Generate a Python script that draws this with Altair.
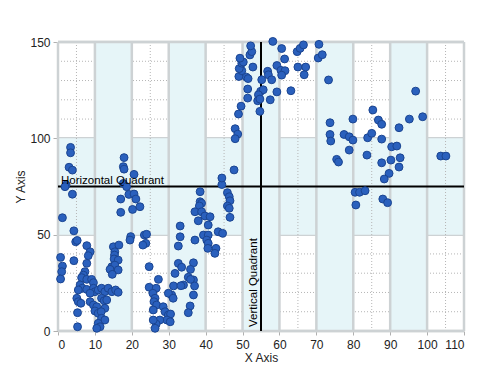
import altair as alt
import pandas as pd

# ---- data ----
x_vals = [
    3.4, 3.4, 3.0, 3.9, 2.2, 1.9, 3.9, 1.2, 4.3, 4.8, 5.2, 7.8, 8.7, 8.2, 0.7, 4.3, 7.8, 1.2, 1.0, 0.7,
    7.3, 6.9, 6.4, 7.8, 9.1, 9.6, 6.0, 6.6, 5.5, 7.8, 9.6, 10.0, 8.7, 5.1, 5.5, 6.2, 8.7, 9.6, 10.5, 10.0,
    10.9, 5.3, 5.3,
    10.9, 11.8, 12.7, 13.6, 14.6, 15.6, 16.3, 11.8, 12.5, 13.2, 12.7, 11.7, 11.8, 12.7, 10.9, 11.4, 10.5,
    15.0, 16.5, 15.4, 15.3, 15.2, 16.3, 14.6, 15.4, 14.1, 16.3, 14.7,
    17.9, 17.7, 17.9, 20.6, 17.7, 18.6, 19.2, 20.6, 21.1, 17.0, 20.2, 22.2, 17.0, 19.7, 19.5,
    23.4, 24.0, 23.8, 23.0,
    24.7, 27.2, 24.7, 26.6, 25.7, 26.3, 26.0, 26.7, 28.5, 29.0, 29.9, 30.5, 29.5, 27.6, 26.6, 25.8, 26.3,
    30.4, 30.8, 29.9, 31.2, 25.8,
    33.1, 33.1, 32.6, 37.1, 32.6, 33.5, 31.7, 31.3, 34.0, 36.7, 35.9, 35.3, 36.7, 37.0, 36.7, 35.8, 35.3,
    35.9, 33.3,
    38.5, 38.5, 38.9, 38.3, 37.1, 38.9, 38.0, 39.8, 41.2, 40.7, 39.4, 40.7, 40.3, 40.7, 42.8, 42.5, 43.4,
    44.6, 40.6, 44.4, 45.9, 46.4, 46.6, 45.9, 46.4, 46.6, 44.4,
    47.7, 48.0, 48.7, 48.0, 48.9, 49.6, 51.4, 51.4, 51.0, 51.5, 49.0, 49.8, 49.1, 49.8, 50.2, 49.3, 52.0,
    52.5, 52.2, 52.8,
    55.2, 54.9, 55.6, 54.3, 54.1, 54.7, 54.7,
    58.2, 56.8, 57.0, 57.9, 59.3, 60.4, 61.5, 60.6, 61.4, 60.6, 59.3, 57.5, 63.1, 64.8, 65.6, 66.5, 65.0,
    67.1, 66.7, 70.5, 71.6, 70.7, 73.3,
    96.9, 85.3, 73.7, 79.9, 86.8, 87.7, 95.2, 98.8, 92.4, 73.7, 73.9, 77.5, 78.9, 79.9, 83.9, 85.0, 87.7,
    78.9, 75.5, 76.0, 83.7, 90.4, 91.8, 92.7, 90.2, 87.7, 92.4, 89.7, 88.4, 103.7, 105.1, 80.5, 81.7, 83.2,
    80.7, 88.0, 89.3,
]
y_vals = [
    95.3, 92.5, 85.0, 83.5, 75.8, 74.9, 71.0, 58.8, 52.0, 46.3, 47.0, 44.3, 41.1, 39.1, 38.2, 36.5, 35.1, 33.7, 30.8, 27.0,
    30.8, 29.0, 27.7, 26.8, 26.8, 25.1, 23.9, 22.2, 21.3, 21.6, 22.2, 20.4, 19.6, 17.0, 15.2, 14.4, 15.2, 13.5, 12.6, 10.4,
    9.2, 9.5, 2.2,
    21.3, 22.2, 20.4, 22.2, 20.4, 21.3, 20.1, 17.0, 15.7, 16.1, 11.8, 10.0, 6.6, 5.7, 4.0, 2.2, 1.4,
    43.7, 44.6, 41.1, 39.4, 37.4, 36.8, 33.4, 34.2, 32.0, 31.7, 29.4,
    90.0, 85.3, 84.0, 81.3, 76.6, 74.9, 70.9, 71.1, 68.5, 68.5, 63.1, 64.5, 61.6, 49.0, 47.2,
    49.8, 50.2, 45.5, 44.6,
    33.4, 26.8, 22.7, 22.2, 19.6, 17.0, 15.2, 13.5, 12.6, 10.0, 8.3, 8.8, 5.7, 5.7, 3.6, 5.7, 1.4,
    4.8, 18.7, 19.6, 17.0, 10.9,
    54.5, 48.9, 44.1, 47.2, 35.1, 33.1, 29.9, 23.4, 23.9, 35.4, 32.0, 27.9, 26.5, 23.4, 18.7, 13.0, 9.5,
    26.8, 23.5,
    72.3, 67.1, 66.3, 64.9, 61.9, 61.9, 57.2, 59.7, 59.3, 55.0, 49.8, 49.8, 47.2, 45.5, 42.9, 40.3, 51.5,
    50.7, 42.9, 76.0, 71.8, 69.7, 67.6, 64.9, 63.7, 59.0, 79.4,
    83.6, 105.0, 102.2, 99.8, 112.6, 116.7, 120.9, 125.6, 131.8, 131.0, 132.1, 135.1, 136.2, 139.0, 139.6, 141.6, 143.3,
    145.0, 148.0, 137.0,
    130.4, 124.4, 125.2, 122.6, 119.5, 120.4, 114.0,
    150.3, 134.8, 133.0, 130.4, 137.8, 135.3, 135.1, 132.8, 141.2, 146.6, 124.1, 120.0, 124.7, 145.0, 146.7, 148.5, 137.0,
    137.0, 133.0, 141.7, 143.4, 148.8, 130.3,
    124.5, 114.7, 108.1, 110.0, 109.5, 107.3, 110.0, 111.2, 105.5, 102.0, 98.6, 102.0, 100.8, 99.1, 100.3, 102.6, 99.6,
    93.9, 89.1, 87.7, 91.3, 95.6, 96.0, 89.9, 88.7, 87.3, 85.1, 81.8, 78.9, 90.8, 90.8, 72.0, 72.0, 72.8,
    65.4, 68.5, 66.6,
]

x_major = [0, 10, 20, 30, 40, 50, 60, 70, 80, 90, 100, 110]
x_minor = [5, 15, 25, 35, 45, 55, 65, 75, 85, 95, 105]
y_major = [0, 50, 100, 150]
y_minor = [10, 20, 30, 40, 60, 70, 80, 90, 110, 120, 130, 140]
y_edges = [0, 150]
x_band_start = [10, 30, 50, 70, 90]
x_band_end = [20, 40, 60, 80, 100]
y_band_start = [50]
y_band_end = [100]
x_domain = [0, 110]
y_domain = [0, 150]
h_quadrant = [75]
v_quadrant = [55]
h_label = ["Horizontal Quadrant"]
v_label = ["Vertical Quadrant"]

W, H = 406, 289
FONT = "Liberation Sans"
xs = alt.Scale(domain=x_domain, nice=False, zero=False)
ys = alt.Scale(domain=y_domain, nice=False, zero=False)
X_AXIS = alt.Axis(values=x_major, grid=False, domain=False, tickColor="#b0b0b0",
                  tickSize=4, labelPadding=4, titlePadding=2, title="X Axis")
Y_AXIS = alt.Axis(values=y_major, grid=False, domain=False, tickColor="#b0b0b0",
                  tickSize=5, labelPadding=3, titlePadding=2, title="Y Axis")


def X(field):
    return alt.X(field, scale=xs, axis=X_AXIS)


def Y(field):
    return alt.Y(field, scale=ys, axis=Y_AXIS)


pts = pd.DataFrame({"x": x_vals, "y": y_vals})
hminor_df = pd.DataFrame({"y": y_minor})
hmajor_df = pd.DataFrame({"y": y_major})
hedge_df = pd.DataFrame({"y": y_edges})
vminor_df = pd.DataFrame({"x": x_minor})
vmajor_df = pd.DataFrame({"x": x_major})
vband_df = pd.DataFrame({"x": x_band_start, "x2": x_band_end,
                         "y": [y_domain[0]] * len(x_band_start),
                         "y2": [y_domain[1]] * len(x_band_start)})
hband_df = pd.DataFrame({"y": y_band_start, "y2": y_band_end,
                         "x": [x_domain[0]], "x2": [x_domain[1]]})
hq_df = pd.DataFrame({"y": h_quadrant, "x": [x_domain[0]], "t": h_label})
vq_df = pd.DataFrame({"x": v_quadrant, "y": [y_domain[0]], "t": v_label})

CYAN = "#e6f5f8"
GRID = "#cdd2d4"
MINOR = "#b5b5b5"

hminor = alt.Chart(hminor_df).mark_rule(color=MINOR, strokeWidth=1, strokeDash=[1, 2]).encode(y=Y("y:Q"))
hmajor = alt.Chart(hmajor_df).mark_rule(color=GRID, strokeWidth=2.5).encode(y=Y("y:Q"))
hband = alt.Chart(hband_df).mark_rect(color=CYAN).encode(
    x=X("x:Q"), x2="x2:Q", y=Y("y:Q"), y2="y2:Q")
vminor = alt.Chart(vminor_df).mark_rule(color=MINOR, strokeWidth=1, strokeDash=[1, 2]).encode(x=X("x:Q"))
vband = alt.Chart(vband_df).mark_rect(color=CYAN).encode(
    x=X("x:Q"), x2="x2:Q", y=Y("y:Q"), y2="y2:Q")
vmajor = alt.Chart(vmajor_df).mark_rule(color=GRID, strokeWidth=2.5).encode(x=X("x:Q"))
hedge = alt.Chart(hedge_df).mark_rule(color=GRID, strokeWidth=2.5).encode(y=Y("y:Q"))

hq = alt.Chart(hq_df).mark_rule(color="#000000", strokeWidth=2).encode(y=Y("y:Q"))
vq = alt.Chart(vq_df).mark_rule(color="#000000", strokeWidth=2).encode(x=X("x:Q"))

points = alt.Chart(pts).mark_circle(size=62, color="#2a60bd", opacity=1,
                                    stroke="#1b4591", strokeWidth=1).encode(
    x=X("x:Q"), y=Y("y:Q"))

htext = alt.Chart(hq_df).mark_text(align="left", baseline="bottom", dx=3, dy=-1,
                                   font=FONT, fontSize=11.5, color="#000000").encode(
    x=X("x:Q"), y=Y("y:Q"), text="t:N")
vtext = alt.Chart(vq_df).mark_text(align="left", baseline="bottom", angle=270, dx=4, dy=-2,
                                   font=FONT, fontSize=11.5, color="#000000").encode(
    x=X("x:Q"), y=Y("y:Q"), text="t:N")

chart = alt.layer(
    hminor, hmajor, hband, vminor, vband, vmajor, hedge, hq, vq, points, htext, vtext
).properties(
    width=W, height=H,
    autosize=alt.AutoSizeParams(type="none"),
    padding={"left": 50, "top": 34, "right": 31, "bottom": 39},
    background="#ffffff",
).configure_view(stroke=None).configure_axis(
    labelFont=FONT, labelFontSize=12, labelColor="#222222",
    titleFont=FONT, titleFontSize=12, titleFontWeight="normal", titleColor="#222222",
)

chart.save("out.html", embed_options={"renderer": "svg", "actions": False})
